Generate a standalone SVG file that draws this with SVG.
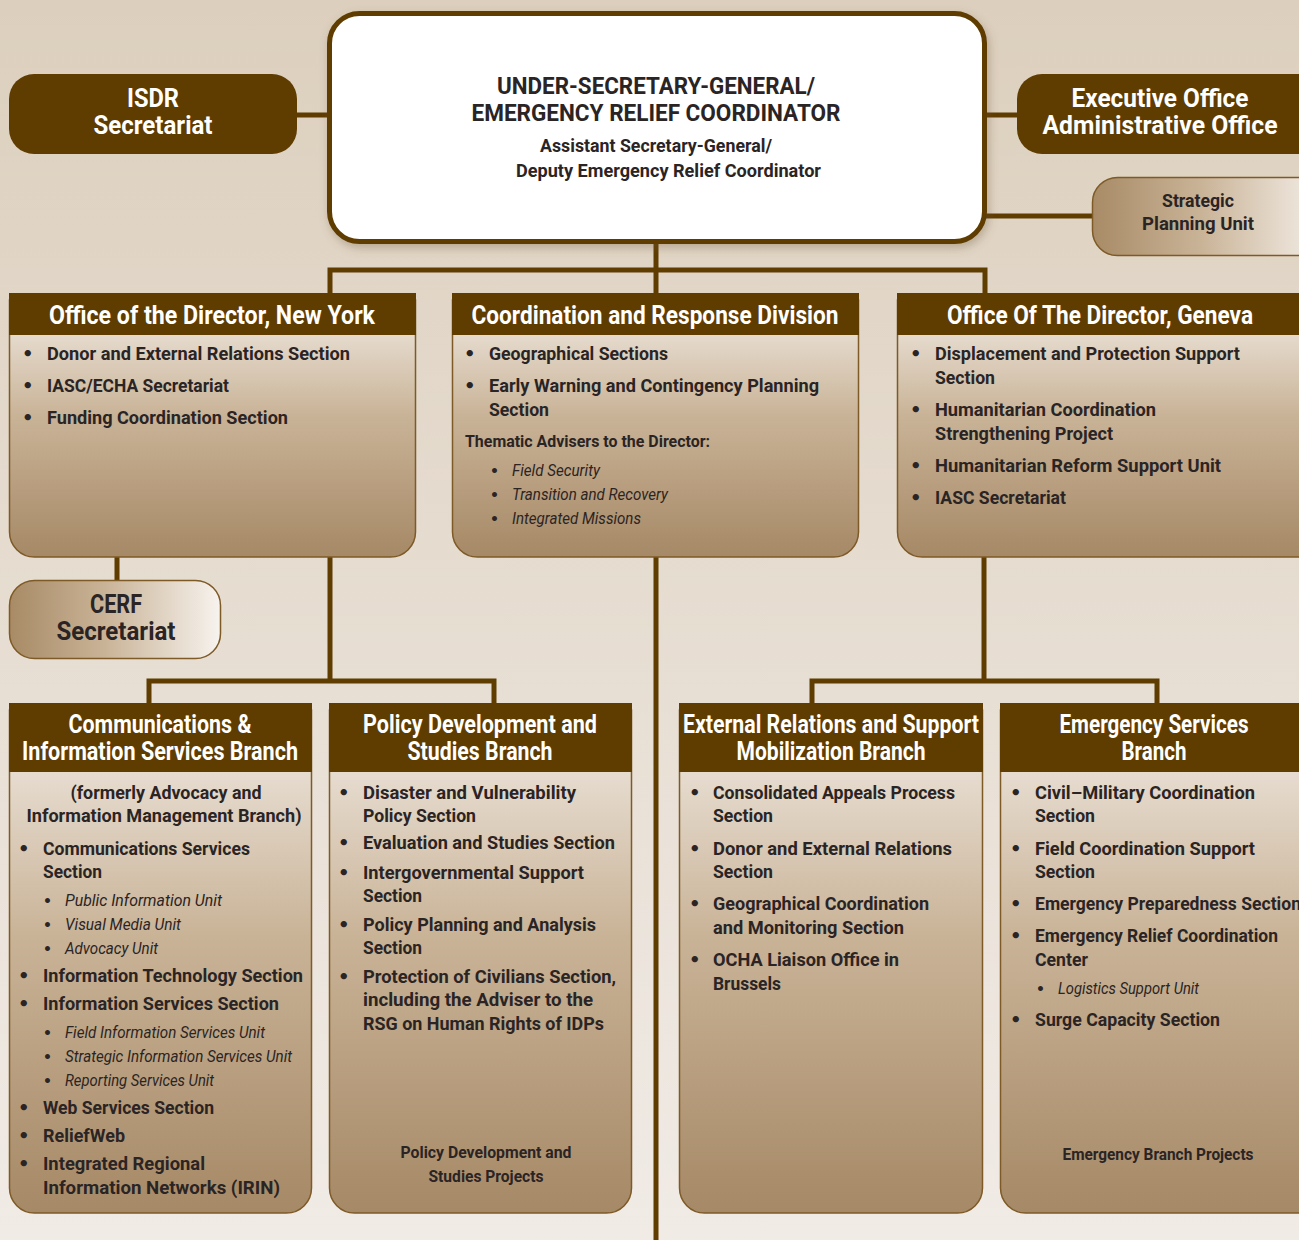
<svg xmlns="http://www.w3.org/2000/svg" width="1299" height="1240" viewBox="0 0 1299 1240">
  <defs>
    <linearGradient id="bg" x1="0" y1="0" x2="0" y2="1">
      <stop offset="0" stop-color="#dccfbd"/>
      <stop offset="1" stop-color="#f1ebe6"/>
    </linearGradient>
    <linearGradient id="body" x1="0" y1="0" x2="0" y2="1">
      <stop offset="0" stop-color="#f1ebe4"/>
      <stop offset="0.45" stop-color="#c9b397"/>
      <stop offset="1" stop-color="#a68966"/>
    </linearGradient>
    <linearGradient id="pill" x1="0" y1="0" x2="1" y2="0">
      <stop offset="0" stop-color="#a88b66"/>
      <stop offset="0.45" stop-color="#c9b397"/>
      <stop offset="1" stop-color="#f7f3ee"/>
    </linearGradient>
    <filter id="shadow" x="-10%" y="-10%" width="120%" height="130%">
      <feDropShadow dx="2" dy="4" stdDeviation="5" flood-color="#6b5638" flood-opacity="0.35"/>
    </filter>
    <style>
      text { font-family: Roboto, "Liberation Sans", "DejaVu Sans", sans-serif; }
      .hd { font-size: 25px; font-weight: bold; fill: #ffffff; text-anchor: middle; }
      .it { font-size: 19px; font-weight: bold; fill: #2b2424; }
      .sm { font-size: 16px; font-weight: bold; fill: #2b2424; }
      .em { font-size: 16px; font-style: italic; fill: #2b2424; }
      .it text.b { font-family: "DejaVu Sans", sans-serif; font-size: 18px; }
      .em text.b { font-family: "DejaVu Sans", sans-serif; font-size: 14px; font-style: normal; font-weight: bold; }
      .ctr { text-anchor: middle; }
      .bar { fill: #5f3c00; }
      .box { fill: url(#body); stroke: #7d5a26; stroke-width: 1.5; }
      .pillbox { fill: url(#pill); stroke: #7d5a26; stroke-width: 1.5; }
      .link { stroke: #5f3c00; stroke-width: 5; fill: none; }
    </style>
  </defs>

  <!-- page background -->
  <rect width="1299" height="1240" fill="url(#bg)"/>

  <!-- connectors -->
  <g id="connectors">
    <line class="link" x1="297" y1="115" x2="330" y2="115"/>
    <line class="link" x1="985" y1="115" x2="1018" y2="115"/>
    <line class="link" x1="985" y1="216" x2="1093" y2="216"/>
    <line class="link" x1="656" y1="243" x2="656" y2="294"/>
    <polyline class="link" points="330,294 330,270 985,270 985,294"/>
    <line class="link" x1="117" y1="557" x2="117" y2="581"/>
    <line class="link" x1="330" y1="557" x2="330" y2="681"/>
    <polyline class="link" points="149,704 149,681 494,681 494,704"/>
    <line class="link" x1="984" y1="557" x2="984" y2="681"/>
    <polyline class="link" points="812,704 812,681 1157,681 1157,704"/>
    <line class="link" x1="656" y1="557" x2="656" y2="1240"/>
  </g>

  <!-- top executive box -->
  <g id="usg">
    <rect x="329.5" y="13.5" width="655" height="228" rx="30" fill="#ffffff" stroke="#5f3c00" stroke-width="5" filter="url(#shadow)"/>
    <g class="it">
      <text class="ctr" x="656" y="94" style="font-size:24px" textLength="318" lengthAdjust="spacingAndGlyphs">UNDER-SECRETARY-GENERAL/</text>
      <text class="ctr" x="656" y="121" style="font-size:24px" textLength="369" lengthAdjust="spacingAndGlyphs">EMERGENCY RELIEF COORDINATOR</text>
      <text x="540" y="152" textLength="232" lengthAdjust="spacingAndGlyphs">Assistant Secretary-General/</text>
      <text x="516" y="177" textLength="305" lengthAdjust="spacingAndGlyphs">Deputy Emergency Relief Coordinator</text>
    </g>
  </g>

  <g id="isdr">
    <rect x="9" y="74" width="288" height="80" rx="25" class="bar"/>
    <text class="hd" x="153" y="107" textLength="52" lengthAdjust="spacingAndGlyphs">ISDR</text>
    <text class="hd" x="153" y="134" textLength="119" lengthAdjust="spacingAndGlyphs">Secretariat</text>
  </g>

  <g id="exec-office">
    <rect x="1017" y="74" width="310" height="80" rx="25" class="bar"/>
    <text class="hd" x="1160" y="107" textLength="177" lengthAdjust="spacingAndGlyphs">Executive Office</text>
    <text class="hd" x="1160" y="134" textLength="235" lengthAdjust="spacingAndGlyphs">Administrative Office</text>
  </g>

  <g id="strategic-planning">
    <rect x="1092.5" y="177.5" width="240" height="78" rx="25" class="pillbox"/>
    <text class="it ctr" x="1198" y="207" textLength="72" lengthAdjust="spacingAndGlyphs">Strategic</text>
    <text class="it ctr" x="1198" y="230" textLength="112" lengthAdjust="spacingAndGlyphs">Planning Unit</text>
  </g>

  <!-- second tier -->
  <g id="director-ny">
    <path class="box" d="M9.5,300 H415.5 V532 a25,25 0 0 1 -25,25 H34.5 a25,25 0 0 1 -25,-25 Z"/>
    <rect x="9" y="293" width="407" height="42" class="bar"/>
    <text class="hd" x="212" y="324" textLength="326" lengthAdjust="spacingAndGlyphs">Office of the Director, New York</text>
    <g class="it">
      <text class="b" x="22" y="360">•</text><text x="47" y="360" textLength="303" lengthAdjust="spacingAndGlyphs">Donor and External Relations Section</text>
      <text class="b" x="22" y="392">•</text><text x="47" y="392" textLength="182" lengthAdjust="spacingAndGlyphs">IASC/ECHA Secretariat</text>
      <text class="b" x="22" y="424">•</text><text x="47" y="424" textLength="241" lengthAdjust="spacingAndGlyphs">Funding Coordination Section</text>
    </g>
  </g>

  <g id="coordination-response">
    <path class="box" d="M452.5,300 H858.5 V532 a25,25 0 0 1 -25,25 H477.5 a25,25 0 0 1 -25,-25 Z"/>
    <rect x="452" y="293" width="407" height="42" class="bar"/>
    <text class="hd" x="655" y="324" textLength="367" lengthAdjust="spacingAndGlyphs">Coordination and Response Division</text>
    <g class="it">
      <text class="b" x="464" y="360">•</text><text x="489" y="360" textLength="179" lengthAdjust="spacingAndGlyphs">Geographical Sections</text>
      <text class="b" x="464" y="392">•</text><text x="489" y="392" textLength="330" lengthAdjust="spacingAndGlyphs">Early Warning and Contingency Planning</text>
      <text x="489" y="416" textLength="60" lengthAdjust="spacingAndGlyphs">Section</text>
    </g>
    <text class="sm" x="465" y="447" textLength="245" lengthAdjust="spacingAndGlyphs">Thematic Advisers to the Director:</text>
    <g class="em">
      <text class="b" x="490" y="476">•</text><text x="512" y="476" textLength="88" lengthAdjust="spacingAndGlyphs">Field Security</text>
      <text class="b" x="490" y="500">•</text><text x="512" y="500" textLength="156" lengthAdjust="spacingAndGlyphs">Transition and Recovery</text>
      <text class="b" x="490" y="524">•</text><text x="512" y="524" textLength="129" lengthAdjust="spacingAndGlyphs">Integrated Missions</text>
    </g>
  </g>

  <g id="director-geneva">
    <path class="box" d="M897.5,300 H1330 V532 a25,25 0 0 1 -25,25 H922.5 a25,25 0 0 1 -25,-25 Z"/>
    <rect x="897" y="293" width="410" height="42" class="bar"/>
    <text class="hd" x="1100" y="324" textLength="306" lengthAdjust="spacingAndGlyphs">Office Of The Director, Geneva</text>
    <g class="it">
      <text class="b" x="910" y="360">•</text><text x="935" y="360" textLength="305" lengthAdjust="spacingAndGlyphs">Displacement and Protection Support</text>
      <text x="935" y="384" textLength="60" lengthAdjust="spacingAndGlyphs">Section</text>
      <text class="b" x="910" y="416">•</text><text x="935" y="416" textLength="221" lengthAdjust="spacingAndGlyphs">Humanitarian Coordination</text>
      <text x="935" y="440" textLength="178" lengthAdjust="spacingAndGlyphs">Strengthening Project</text>
      <text class="b" x="910" y="472">•</text><text x="935" y="472" textLength="286" lengthAdjust="spacingAndGlyphs">Humanitarian Reform Support Unit</text>
      <text class="b" x="910" y="504">•</text><text x="935" y="504" textLength="131" lengthAdjust="spacingAndGlyphs">IASC Secretariat</text>
    </g>
  </g>

  <g id="cerf">
    <rect x="9.5" y="580.5" width="211" height="78" rx="25" class="pillbox"/>
    <text class="it ctr" x="116" y="613" style="font-size:25px" textLength="52" lengthAdjust="spacingAndGlyphs">CERF</text>
    <text class="it ctr" x="116" y="640" style="font-size:25px" textLength="119" lengthAdjust="spacingAndGlyphs">Secretariat</text>
  </g>

  <!-- third tier -->
  <g id="communications">
    <path class="box" d="M9.5,710 H311.5 V1188 a25,25 0 0 1 -25,25 H34.5 a25,25 0 0 1 -25,-25 Z"/>
    <rect x="9" y="703" width="303" height="69" class="bar"/>
    <text class="hd" x="160" y="733" textLength="183" lengthAdjust="spacingAndGlyphs">Communications &amp;</text>
    <text class="hd" x="160" y="760" textLength="276" lengthAdjust="spacingAndGlyphs">Information Services Branch</text>
    <text class="it ctr" x="166" y="799" textLength="191" lengthAdjust="spacingAndGlyphs">(formerly Advocacy and</text>
    <text class="it ctr" x="164" y="822" textLength="275" lengthAdjust="spacingAndGlyphs">Information Management Branch)</text>
    <g class="it">
      <text class="b" x="18" y="855">•</text><text x="43" y="855" textLength="207" lengthAdjust="spacingAndGlyphs">Communications Services</text>
      <text x="43" y="878" textLength="59" lengthAdjust="spacingAndGlyphs">Section</text>
      <text class="b" x="18" y="982">•</text><text x="43" y="982" textLength="260" lengthAdjust="spacingAndGlyphs">Information Technology Section</text>
      <text class="b" x="18" y="1010">•</text><text x="43" y="1010" textLength="236" lengthAdjust="spacingAndGlyphs">Information Services Section</text>
      <text class="b" x="18" y="1114">•</text><text x="43" y="1114" textLength="171" lengthAdjust="spacingAndGlyphs">Web Services Section</text>
      <text class="b" x="18" y="1142">•</text><text x="43" y="1142" textLength="82" lengthAdjust="spacingAndGlyphs">ReliefWeb</text>
      <text class="b" x="18" y="1170">•</text><text x="43" y="1170" textLength="162" lengthAdjust="spacingAndGlyphs">Integrated Regional</text>
      <text x="43" y="1194" textLength="237" lengthAdjust="spacingAndGlyphs">Information Networks (IRIN)</text>
    </g>
    <g class="em">
      <text class="b" x="43" y="906">•</text><text x="65" y="906" textLength="157" lengthAdjust="spacingAndGlyphs">Public Information Unit</text>
      <text class="b" x="43" y="930">•</text><text x="65" y="930" textLength="116" lengthAdjust="spacingAndGlyphs">Visual Media Unit</text>
      <text class="b" x="43" y="954">•</text><text x="65" y="954" textLength="93" lengthAdjust="spacingAndGlyphs">Advocacy Unit</text>
      <text class="b" x="43" y="1038">•</text><text x="65" y="1038" textLength="200" lengthAdjust="spacingAndGlyphs">Field Information Services Unit</text>
      <text class="b" x="43" y="1062">•</text><text x="65" y="1062" textLength="227" lengthAdjust="spacingAndGlyphs">Strategic Information Services Unit</text>
      <text class="b" x="43" y="1086">•</text><text x="65" y="1086" textLength="149" lengthAdjust="spacingAndGlyphs">Reporting Services Unit</text>
    </g>
  </g>

  <g id="policy-development">
    <path class="box" d="M329.5,710 H631.5 V1188 a25,25 0 0 1 -25,25 H354.5 a25,25 0 0 1 -25,-25 Z"/>
    <rect x="329" y="703" width="303" height="69" class="bar"/>
    <text class="hd" x="480" y="733" textLength="234" lengthAdjust="spacingAndGlyphs">Policy Development and</text>
    <text class="hd" x="480" y="760" textLength="145" lengthAdjust="spacingAndGlyphs">Studies Branch</text>
    <g class="it">
      <text class="b" x="338" y="799">•</text><text x="363" y="799" textLength="213" lengthAdjust="spacingAndGlyphs">Disaster and Vulnerability</text>
      <text x="363" y="822" textLength="113" lengthAdjust="spacingAndGlyphs">Policy Section</text>
      <text class="b" x="338" y="849">•</text><text x="363" y="849" textLength="252" lengthAdjust="spacingAndGlyphs">Evaluation and Studies Section</text>
      <text class="b" x="338" y="879">•</text><text x="363" y="879" textLength="221" lengthAdjust="spacingAndGlyphs">Intergovernmental Support</text>
      <text x="363" y="902" textLength="59" lengthAdjust="spacingAndGlyphs">Section</text>
      <text class="b" x="338" y="931">•</text><text x="363" y="931" textLength="233" lengthAdjust="spacingAndGlyphs">Policy Planning and Analysis</text>
      <text x="363" y="954" textLength="59" lengthAdjust="spacingAndGlyphs">Section</text>
      <text class="b" x="338" y="983">•</text><text x="363" y="983" textLength="253" lengthAdjust="spacingAndGlyphs">Protection of Civilians Section,</text>
      <text x="363" y="1006" textLength="230" lengthAdjust="spacingAndGlyphs">including the Adviser to the</text>
      <text x="363" y="1030" textLength="241" lengthAdjust="spacingAndGlyphs">RSG on Human Rights of IDPs</text>
    </g>
    <text class="sm ctr" x="486" y="1158" textLength="171" lengthAdjust="spacingAndGlyphs">Policy Development and</text>
    <text class="sm ctr" x="486" y="1182" textLength="115" lengthAdjust="spacingAndGlyphs">Studies Projects</text>
  </g>

  <g id="external-relations">
    <path class="box" d="M679.5,710 H982.5 V1188 a25,25 0 0 1 -25,25 H704.5 a25,25 0 0 1 -25,-25 Z"/>
    <rect x="679" y="703" width="304" height="69" class="bar"/>
    <text class="hd" x="831" y="733" textLength="296" lengthAdjust="spacingAndGlyphs">External Relations and Support</text>
    <text class="hd" x="831" y="760" textLength="189" lengthAdjust="spacingAndGlyphs">Mobilization Branch</text>
    <g class="it">
      <text class="b" x="689" y="799">•</text><text x="713" y="799" textLength="242" lengthAdjust="spacingAndGlyphs">Consolidated Appeals Process</text>
      <text x="713" y="822" textLength="60" lengthAdjust="spacingAndGlyphs">Section</text>
      <text class="b" x="689" y="855">•</text><text x="713" y="855" textLength="239" lengthAdjust="spacingAndGlyphs">Donor and External Relations</text>
      <text x="713" y="878" textLength="60" lengthAdjust="spacingAndGlyphs">Section</text>
      <text class="b" x="689" y="910">•</text><text x="713" y="910" textLength="216" lengthAdjust="spacingAndGlyphs">Geographical Coordination</text>
      <text x="713" y="934" textLength="191" lengthAdjust="spacingAndGlyphs">and Monitoring Section</text>
      <text class="b" x="689" y="966">•</text><text x="713" y="966" textLength="186" lengthAdjust="spacingAndGlyphs">OCHA Liaison Office in</text>
      <text x="713" y="990" textLength="68" lengthAdjust="spacingAndGlyphs">Brussels</text>
    </g>
  </g>

  <g id="emergency-services">
    <path class="box" d="M1000.5,710 H1330 V1188 a25,25 0 0 1 -25,25 H1025.5 a25,25 0 0 1 -25,-25 Z"/>
    <rect x="1000" y="703" width="310" height="69" class="bar"/>
    <text class="hd" x="1154" y="733" textLength="189" lengthAdjust="spacingAndGlyphs">Emergency Services</text>
    <text class="hd" x="1154" y="760" textLength="65" lengthAdjust="spacingAndGlyphs">Branch</text>
    <g class="it">
      <text class="b" x="1010" y="799">•</text><text x="1035" y="799" textLength="220" lengthAdjust="spacingAndGlyphs">Civil–Military Coordination</text>
      <text x="1035" y="822" textLength="60" lengthAdjust="spacingAndGlyphs">Section</text>
      <text class="b" x="1010" y="855">•</text><text x="1035" y="855" textLength="220" lengthAdjust="spacingAndGlyphs">Field Coordination Support</text>
      <text x="1035" y="878" textLength="60" lengthAdjust="spacingAndGlyphs">Section</text>
      <text class="b" x="1010" y="910">•</text><text x="1035" y="910" textLength="266" lengthAdjust="spacingAndGlyphs">Emergency Preparedness Section</text>
      <text class="b" x="1010" y="942">•</text><text x="1035" y="942" textLength="243" lengthAdjust="spacingAndGlyphs">Emergency Relief Coordination</text>
      <text x="1035" y="966" textLength="53" lengthAdjust="spacingAndGlyphs">Center</text>
      <text class="b" x="1010" y="1026">•</text><text x="1035" y="1026" textLength="185" lengthAdjust="spacingAndGlyphs">Surge Capacity Section</text>
    </g>
    <g class="em">
      <text class="b" x="1036" y="994">•</text><text x="1058" y="994" textLength="141" lengthAdjust="spacingAndGlyphs">Logistics Support Unit</text>
    </g>
    <text class="sm ctr" x="1158" y="1160" textLength="191" lengthAdjust="spacingAndGlyphs">Emergency Branch Projects</text>
  </g>
</svg>
